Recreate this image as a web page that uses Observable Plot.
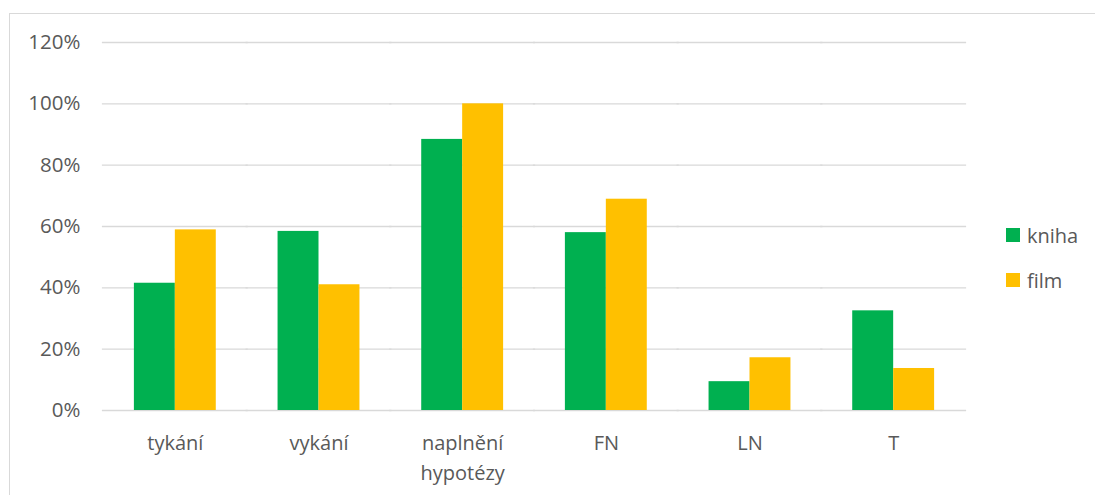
<!DOCTYPE html>
<html>
<head>
<meta charset="utf-8">
<script src="https://cdn.jsdelivr.net/npm/d3@7"></script>
<script src="https://cdn.jsdelivr.net/npm/@observablehq/plot@0.6"></script>
<style>
  html, body { margin: 0; padding: 0; background: #fff; overflow: hidden; }
  #wrap { position: relative; width: 1095px; height: 495px; overflow: hidden; }
  #chart { position: absolute; left: 0; top: 0; }
  #border { position: absolute; left: 9px; top: 13px; width: 1200px; height: 600px; border: 1px solid #d9d9d9; pointer-events: none; }
  .legend { position: absolute; left: 1006px; font-family: "Open Sans", sans-serif; font-size: 20px; color: #595959; display: flex; align-items: center; height: 24px; }
  .legend .sw { width: 14px; height: 14px; margin-right: 7px; }
</style>
</head>
<body>
<div id="wrap">
  <div id="chart"></div>
  <div id="border"></div>
</div>
<script>
const categories = ["tykání", "vykání", "naplnění\nhypotézy", "FN", "LN", "T"];
const series = ["kniha", "film"];
const kniha = [0.415, 0.584, 0.884, 0.580, 0.094, 0.325];
const film = [0.589, 0.410, 1.000, 0.689, 0.172, 0.137];
const yTicks = [0, 0.2, 0.4, 0.6, 0.8, 1.0, 1.2];
const colors = ["#00B050", "#FFC000"];

const data = [];
categories.forEach((c, i) => {
  data.push({cat: c, series: "kniha", value: kniha[i]});
  data.push({cat: c, series: "film", value: film[i]});
});

const chart = Plot.plot({
  width: 1095,
  height: 495,
  marginLeft: 103,
  marginRight: 130,
  marginTop: 42,
  marginBottom: 85,
  style: {fontFamily: "Open Sans, sans-serif", fontSize: "20px", color: "#595959", background: "transparent"},
  fx: {domain: categories, paddingInner: 0.43, paddingOuter: 0.215, round: false, label: null, axis: null},
  x: {domain: series, padding: 0, round: false, axis: null},
  y: {domain: [0, 1.2], axis: null},
  color: {domain: series, range: colors},
  marks: [
    Plot.ruleY(yTicks, {y: d => d, stroke: "#d9d9d9", strokeWidth: 1.3, insetLeft: -32, insetRight: -32}),
    Plot.barY(data, {fx: "cat", x: "series", y: "value", fill: "series"}),
    Plot.text(yTicks, {fx: () => categories[0], y: d => d, text: d => `${Math.round(d * 100)}%`, frameAnchor: "left", dx: -54, textAnchor: "end", fill: "#595959", fontSize: 20.5}),
    Plot.axisFx({anchor: "bottom", tickSize: 0, tickPadding: 18, lineHeight: 1.5, fontSize: 20, fill: "#595959", label: null})
  ]
});
document.getElementById("chart").appendChild(chart);

const wrap = document.getElementById("wrap");
series.forEach((s, i) => {
  const d = document.createElement("div");
  d.className = "legend";
  d.style.top = (223 + i * 45) + "px";
  d.innerHTML = `<span class="sw" style="background:${colors[i]}"></span><span>${s}</span>`;
  wrap.appendChild(d);
});
</script>
</body>
</html>
